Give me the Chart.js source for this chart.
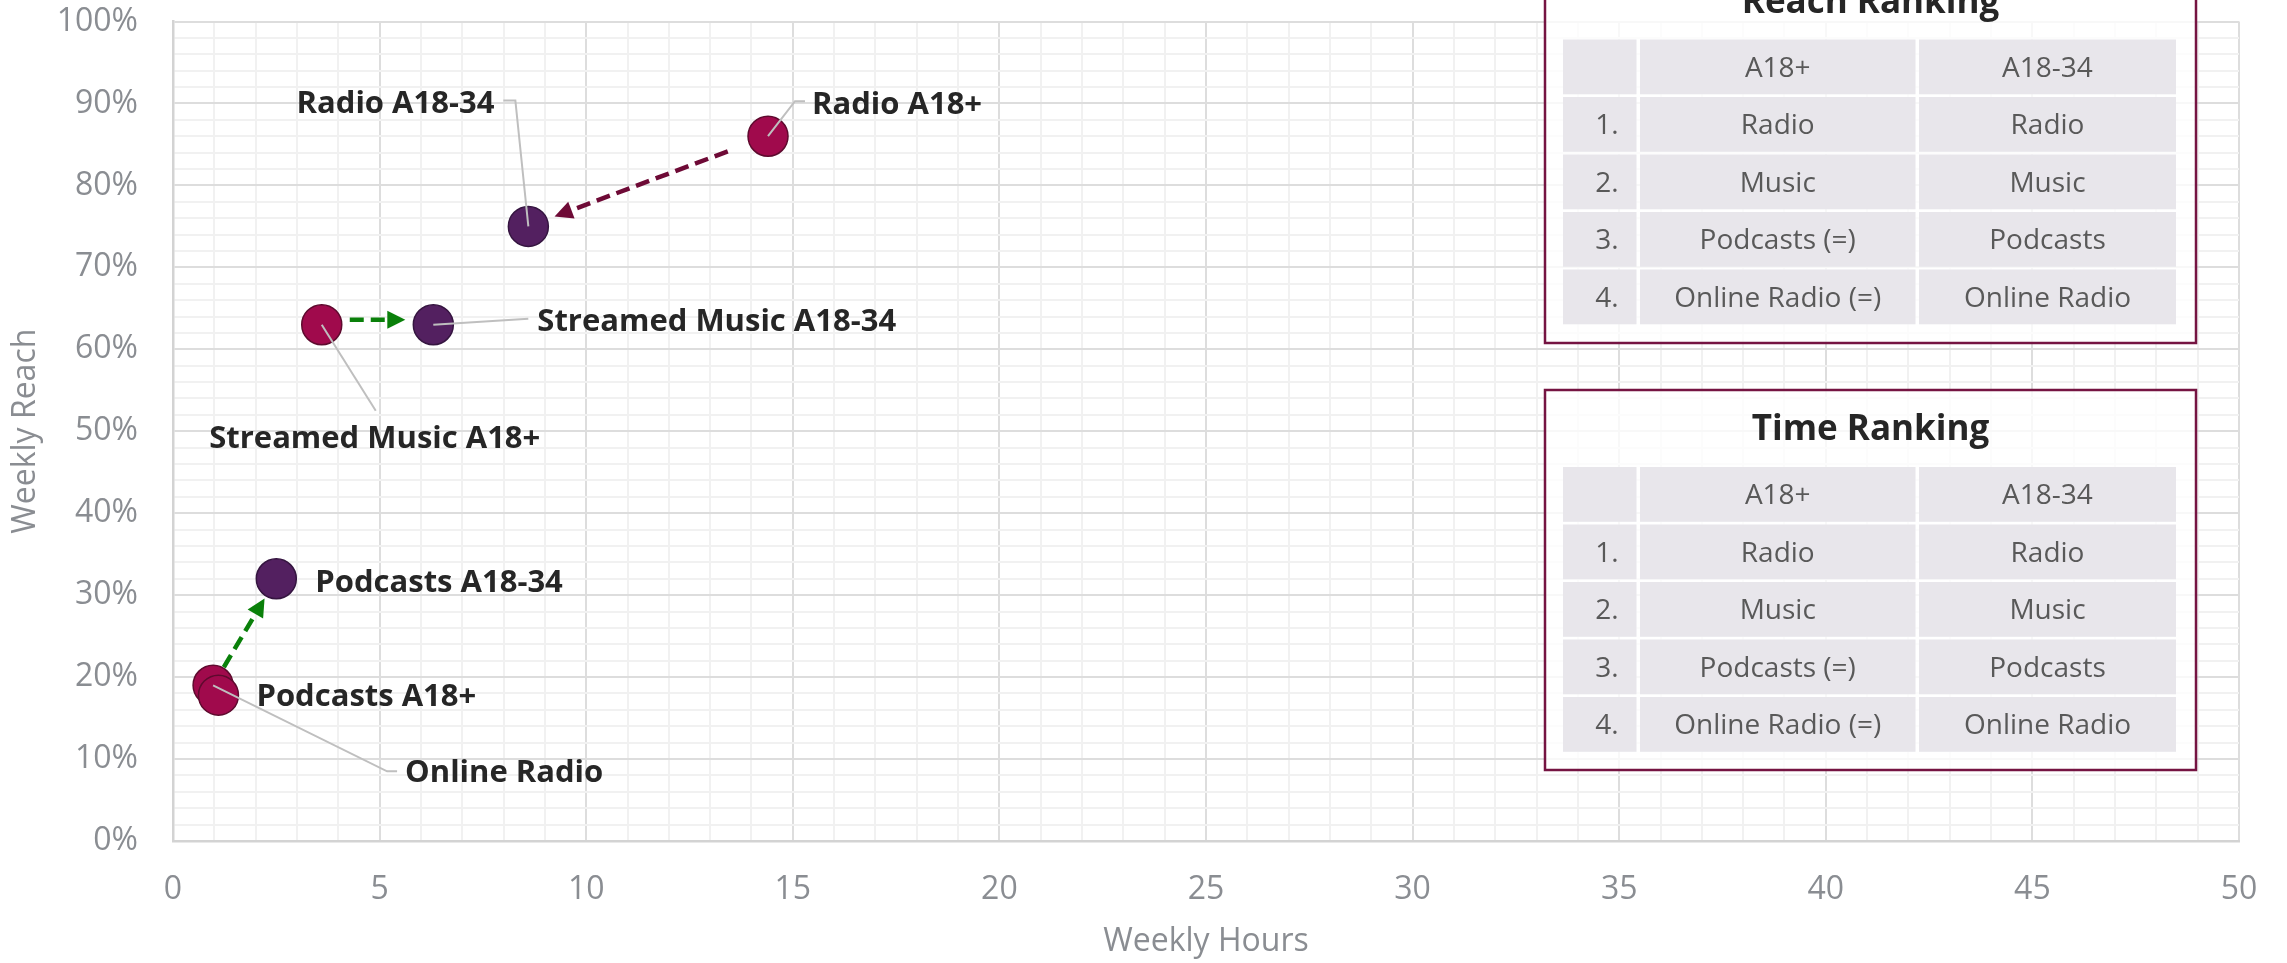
<!DOCTYPE html>
<html>
<head>
<meta charset="utf-8">
<script src="https://cdn.jsdelivr.net/npm/chart.js@4.4.1/dist/chart.umd.min.js"></script>
<style>
  html, body { margin: 0; padding: 0; background: #ffffff; }
  #wrap { width: 2287px; height: 963px; position: relative; }
</style>
</head>
<body>
<div id="wrap"><canvas id="c" width="2287" height="963"></canvas></div>
<script>
// ---------------- DATA ----------------
const namesA18plus  = ['Radio A18+', 'Streamed Music A18+', 'Online Radio', 'Podcasts A18+'];
const hoursA18plus  = [14.4, 3.6, 0.97, 1.1];
const reachA18plus  = [86, 63, 19, 17.8];

const namesA1834    = ['Radio A18-34', 'Streamed Music A18-34', 'Podcasts A18-34'];
const hoursA1834    = [8.6, 6.3, 2.5];
const reachA1834    = [75, 63, 32];

// arrows: from point name -> to point name
const arrowFrom  = ['Radio A18+', 'Streamed Music A18+', 'Online Radio'];
const arrowTo    = ['Radio A18-34', 'Streamed Music A18-34', 'Podcasts A18-34'];

const xTickValues = [0, 5, 10, 15, 20, 25, 30, 35, 40, 45, 50];
const yTickValues = [0, 10, 20, 30, 40, 50, 60, 70, 80, 90, 100];

const rankNumbers   = ['1.', '2.', '3.', '4.'];
const rankHeaders   = ['A18+', 'A18-34'];
const reachRankA18plus = ['Radio', 'Music', 'Podcasts (=)', 'Online Radio (=)'];
const reachRankA1834   = ['Radio', 'Music', 'Podcasts', 'Online Radio'];
const timeRankA18plus  = ['Radio', 'Music', 'Podcasts (=)', 'Online Radio (=)'];
const timeRankA1834    = ['Radio', 'Music', 'Podcasts', 'Online Radio'];

// ---------------- STYLE / LAYOUT ----------------
const FONT = '"Open Sans", "DejaVu Sans", sans-serif';
const TICK_COLOR = '#8A8D92';
const LABEL_COLOR = '#262626';
const COL_A18PLUS = '#A00A4C', BORDER_A18PLUS = '#5E0A2E';
const COL_A1834 = '#532060', BORDER_A1834 = '#351540';
const AREA = { left: 173, top: 20.5, right: 2239, bottom: 841 };

const arrowStyle = [
  {color: '#6E0A36', shortenStart: 43, shortenEnd: 28, dy: 0},
  {color: '#0A800A', shortenStart: 28, shortenEnd: 28, dy: -5},
  {color: '#0A800A', shortenStart: 21, shortenEnd: 23, dy: 0}
];

// label offsets relative to point pixel (dx, dy = cap-center), leader polyline offsets
const labelLayout = {
  'Radio A18+':            {dx: 44,  dy: -33, align: 'left',   leader: [[0,0],[27,-35],[37,-35]]},
  'Radio A18-34':          {dx: -34, dy: -124, align: 'right', leader: [[0,0],[-13,-126],[-25,-126]]},
  'Streamed Music A18-34': {dx: 104, dy: -5,  align: 'left',   leader: [[0,0],[95,-6]]},
  'Streamed Music A18+':   {dx: 53,  dy: 112, align: 'center', leader: [[0,0],[54,86]]},
  'Podcasts A18-34':       {dx: 39,  dy: 2,   align: 'left',   leader: null},
  'Podcasts A18+':         {dx: 38,  dy: 0,   align: 'left',   leader: null},
  'Online Radio':          {dx: 192, dy: 86,  align: 'left',   leader: [[0,0],[174,86],[184,86]]}
};

const tableBoxes = [
  {title: 'Reach Ranking', top: -37.5, bottom: 343, colA: reachRankA18plus, colB: reachRankA1834},
  {title: 'Time Ranking',  top: 390,   bottom: 770, colA: timeRankA18plus,  colB: timeRankA1834}
];
const boxLeft = 1545, boxRight = 2196;
const colEdges = [[1563, 1636.5], [1640, 1915.5], [1919, 2176]];

// ---------------- BUILD ----------------
function pts(xs, ys) { return xs.map((x, i) => ({x: x, y: ys[i]})); }

const datasets = [
  {label: 'A18+', data: pts(hoursA18plus, reachA18plus), names: namesA18plus,
   backgroundColor: COL_A18PLUS, borderColor: BORDER_A18PLUS, borderWidth: 1.5,
   pointRadius: 20, pointHoverRadius: 20, order: 1},
  {label: 'A18-34', data: pts(hoursA1834, reachA1834), names: namesA1834,
   backgroundColor: COL_A1834, borderColor: BORDER_A1834, borderWidth: 1.5,
   pointRadius: 20, pointHoverRadius: 20, order: 2}
];

function findPixel(chart, name) {
  for (let d = 0; d < chart.data.datasets.length; d++) {
    const ds = chart.data.datasets[d];
    const idx = ds.names.indexOf(name);
    if (idx >= 0) {
      const p = ds.data[idx];
      return {x: chart.scales.x.getPixelForValue(p.x), y: chart.scales.y.getPixelForValue(p.y)};
    }
  }
  return null;
}

const arrowPlugin = {
  id: 'arrows',
  beforeDatasetsDraw(chart) {
    const ctx = chart.ctx;
    arrowFrom.forEach((fromName, i) => {
      const a = findPixel(chart, fromName), b = findPixel(chart, arrowTo[i]);
      const st = arrowStyle[i];
      const vx = b.x - a.x, vy = b.y - a.y, len = Math.hypot(vx, vy);
      const ux = vx / len, uy = vy / len;
      const sx = a.x + ux * st.shortenStart, sy = a.y + uy * st.shortenStart + st.dy;
      const ex = b.x - ux * st.shortenEnd, ey = b.y - uy * st.shortenEnd + st.dy;
      const headLen = 18, headW = 9;
      const bx = ex - ux * headLen, by = ey - uy * headLen;
      ctx.save();
      ctx.strokeStyle = st.color; ctx.fillStyle = st.color;
      ctx.lineWidth = 4.5; ctx.setLineDash([14, 7]); ctx.lineCap = 'butt';
      ctx.beginPath(); ctx.moveTo(sx, sy); ctx.lineTo(bx, by); ctx.stroke();
      ctx.setLineDash([]);
      ctx.beginPath();
      ctx.moveTo(ex, ey);
      ctx.lineTo(bx - uy * headW, by + ux * headW);
      ctx.lineTo(bx + uy * headW, by - ux * headW);
      ctx.closePath(); ctx.fill();
      ctx.restore();
    });
  }
};

const labelPlugin = {
  id: 'pointLabels',
  afterDatasetsDraw(chart) {
    const ctx = chart.ctx;
    const fs = 31;
    ctx.save();
    chart.data.datasets.forEach(ds => {
      ds.names.forEach(name => {
        const p = findPixel(chart, name);
        const L = labelLayout[name];
        if (L.leader) {
          ctx.strokeStyle = '#BFBFBF'; ctx.lineWidth = 2;
          ctx.beginPath();
          L.leader.forEach((o, k) => { if (k === 0) ctx.moveTo(p.x + o[0], p.y + o[1]); else ctx.lineTo(p.x + o[0], p.y + o[1]); });
          ctx.stroke();
        }
        ctx.fillStyle = LABEL_COLOR;
        ctx.font = 'bold ' + fs + 'px ' + FONT;
        ctx.textAlign = L.align; ctx.textBaseline = 'alphabetic';
        ctx.fillText(name, p.x + L.dx, p.y + L.dy + fs * 0.357);
      });
    });
    ctx.restore();
  }
};

const tablePlugin = {
  id: 'tables',
  afterDraw(chart) {
    const ctx = chart.ctx;
    ctx.save();
    tableBoxes.forEach(tb => {
      ctx.fillStyle = 'rgba(255,255,255,0.8)';
      ctx.fillRect(boxLeft, tb.top, boxRight - boxLeft, tb.bottom - tb.top);
      ctx.strokeStyle = '#751442'; ctx.lineWidth = 2.5;
      ctx.strokeRect(boxLeft, tb.top, boxRight - boxLeft, tb.bottom - tb.top);
      ctx.fillStyle = '#262626';
      ctx.font = 'bold 35px ' + FONT;
      ctx.textAlign = 'center'; ctx.textBaseline = 'alphabetic';
      ctx.fillText(tb.title, (boxLeft + boxRight) / 2, tb.top + 50);
      const rowTop0 = tb.top + 77, pitch = 57.5, rowH = 54.8;
      const rows = [[ '', rankHeaders[0], rankHeaders[1] ]];
      rankNumbers.forEach((n, i) => rows.push([n, tb.colA[i], tb.colB[i]]));
      const fs = 28;
      rows.forEach((r, ri) => {
        const y0 = rowTop0 + ri * pitch;
        colEdges.forEach((ce, ci) => {
          ctx.fillStyle = '#E8E6EB';
          ctx.fillRect(ce[0], y0, ce[1] - ce[0], rowH);
          ctx.fillStyle = '#595959';
          ctx.font = fs + 'px ' + FONT;
          const yText = y0 + rowH / 2 + fs * 0.357;
          if (ci === 0) { ctx.textAlign = 'right'; ctx.fillText(r[ci], ce[1] - 18, yText); }
          else { ctx.textAlign = 'center'; ctx.fillText(r[ci], (ce[0] + ce[1]) / 2, yText); }
        });
      });
    });
    ctx.restore();
  }
};

const majorX = v => xTickValues.includes(v);
const majorY = v => yTickValues.includes(v);

const chart = new Chart(document.getElementById('c'), {
  type: 'scatter',
  data: { datasets: datasets },
  options: {
    responsive: false,
    animation: false,
    events: [],
    layout: { padding: { top: AREA.top, right: 2287 - AREA.right, left: 0, bottom: 0 } },
    plugins: { legend: { display: false }, tooltip: { enabled: false } },
    scales: {
      x: {
        type: 'linear', min: 0, max: 50,
        afterFit: s => { s.height = 963 - AREA.bottom; s.paddingLeft = 0; s.paddingRight = 0; },
        afterBuildTicks: s => { const t = []; for (let v = 0; v <= 50; v += 1) t.push({value: v}); s.ticks = t; },
        ticks: {
          autoSkip: false, maxRotation: 0, padding: 30,
          color: TICK_COLOR, font: { family: FONT, size: 32 },
          callback: v => majorX(v) ? String(v) : ''
        },
        grid: {
          drawTicks: false,
          color: c => majorX(c.tick.value) ? '#DDDDDD' : '#F1F1F1',
          lineWidth: c => 2
        },
        border: { display: true, color: '#D3D3D3', width: 2.5 },
        title: { display: true, text: 'Weekly Hours', color: TICK_COLOR,
                 font: { family: FONT, size: 32 }, padding: { top: 0, bottom: 2 } }
      },
      y: {
        type: 'linear', min: 0, max: 100,
        afterFit: s => { s.width = AREA.left; s.paddingTop = 0; s.paddingBottom = 0; },
        afterBuildTicks: s => { const t = []; for (let v = 0; v <= 100; v += 2) t.push({value: v}); s.ticks = t; },
        ticks: {
          autoSkip: false, padding: 35,
          color: TICK_COLOR, font: { family: FONT, size: 32 },
          callback: v => majorY(v) ? v + '%' : ''
        },
        grid: {
          drawTicks: false,
          color: c => majorY(c.tick.value) ? '#DDDDDD' : '#F1F1F1',
          lineWidth: c => 2
        },
        border: { display: true, color: '#D3D3D3', width: 2.5 },
        title: { display: true, text: 'Weekly Reach', color: TICK_COLOR,
                 font: { family: FONT, size: 32 }, padding: { top: 7, bottom: 0 } }
      }
    }
  },
  plugins: [arrowPlugin, labelPlugin, tablePlugin]
});

// nudge layout padding so that the plot area lands where the reference has it
for (let k = 0; k < 3; k++) {
  const ca = chart.chartArea;
  const dTop = ca.top - AREA.top;
  const dRight = ca.right - AREA.right;
  if (Math.abs(dTop) < 0.5 && Math.abs(dRight) < 0.5) break;
  chart.options.layout.padding.top -= dTop;
  chart.options.layout.padding.right += dRight;
  chart.update();
}
</script>
</body>
</html>
